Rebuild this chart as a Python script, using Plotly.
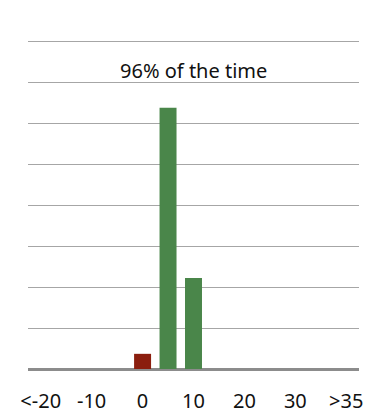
import plotly.graph_objects as go

categories = ["<-20", "-15", "-10", "-5", "0", "5", "10", "15", "20", "25", "30", "35", ">35"]
tick_labels = ["<-20", "", "-10", "", "0", "", "10", "", "20", "", "30", "", ">35"]
values = [0, 0, 0, 0, 3.7, 63.7, 22.2, 0, 0, 0, 0, 0, 0]
bar_colors = ["#8b1e0e" if i < 5 else "#4a864a" for i in range(len(categories))]
annotation_text = "96% of the time"

fig = go.Figure()
fig.add_trace(go.Bar(
    x=categories, y=values,
    marker=dict(color=bar_colors, line=dict(width=0)),
    width=0.667,
    hoverinfo="skip",
))

fig.update_layout(
    width=373, height=414,
    margin=dict(l=28, r=13.5, t=39, b=45),
    paper_bgcolor="white", plot_bgcolor="white",
    showlegend=False,
    font=dict(family="Noto Sans, sans-serif", color="#111111", size=20),
    xaxis=dict(
        type="category",
        tickmode="array", tickvals=categories, ticktext=tick_labels,
        showgrid=False, showline=False, zeroline=False, ticks="",
        tickfont=dict(size=20, color="#111111"),
        ticklabelstandoff=18,
        automargin=False,
        fixedrange=True,
    ),
    yaxis=dict(
        range=[0, 80.5], tickvals=[10, 20, 30, 40, 50, 60, 70, 80], showticklabels=False,
        showgrid=True, gridcolor="#a6a6a6", gridwidth=1,
        zeroline=True, zerolinecolor="#8c8c8c", zerolinewidth=2.5,
        showline=False, ticks="", automargin=False, fixedrange=True,
    ),
    annotations=[dict(
        text=annotation_text, xref="paper", yref="y",
        x=0.5, y=72.8, xanchor="center", yanchor="middle",
        showarrow=False, font=dict(size=20, color="#111111"),
    )],
)

fig.write_html("out.html")
